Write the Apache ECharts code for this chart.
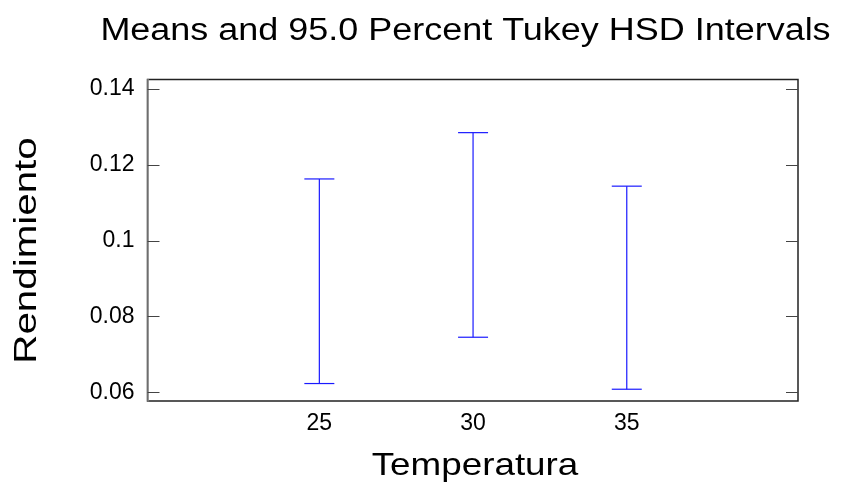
<!DOCTYPE html>
<html><head><meta charset="utf-8">
<script src="https://cdn.jsdelivr.net/npm/echarts@6/dist/echarts.min.js"></script>
<style>html,body{margin:0;padding:0;background:#fff}#c{width:849px;height:488px}</style>
</head><body><div id="c"></div>
<script>
const categories = [25, 30, 35];
const upper = [0.1163, 0.1285, 0.1144];
const lower = [0.0624, 0.0746, 0.0609];
const yTicks = [0.06, 0.08, 0.1, 0.12, 0.14];
const titleText = 'Means and 95.0 Percent Tukey HSD Intervals';
const xName = 'Temperatura';
const yName = 'Rendimiento';

const chart = echarts.init(document.getElementById('c'));
const font = 'Liberation Sans, Arial, sans-serif';
const data = categories.map((c, i) => [c, lower[i], upper[i]]);
chart.setOption({
  animation: false,
  graphic: [
    {type: 'text', x: 465.5, y: 31, scaleX: 1.16,
     style: {text: titleText, font: '31px ' + font, fill: '#000', align: 'center', verticalAlign: 'middle'}},
    {type: 'text', x: 475, y: 466, scaleX: 1.15,
     style: {text: xName, font: '32px ' + font, fill: '#000', align: 'center', verticalAlign: 'middle'}},
    {type: 'text', x: 27, y: 250.5, rotation: Math.PI / 2, scaleX: 1.26,
     style: {text: yName, font: '32px ' + font, fill: '#000', align: 'center', verticalAlign: 'middle'}}
  ],
  grid: {left: 147.5, right: 51, top: 79.5, bottom: 87, show: true, borderColor: '#222', borderWidth: 1.5},
  xAxis: {
    type: 'value', min: 19.41, max: 40.57,
    axisLine: {show: false}, axisTick: {show: false}, splitLine: {show: false},
    axisLabel: {customValues: categories, fontFamily: font, fontSize: 23, color: '#000', margin: 11}
  },
  yAxis: [{
    type: 'value', min: 0.0578, max: 0.1425,
    axisLine: {show: true, lineStyle: {color: '#888', width: 1.5}},
    axisTick: {show: true, inside: true, length: 12, customValues: yTicks, lineStyle: {color: '#444'}},
    splitLine: {show: false},
    axisLabel: {customValues: yTicks, fontFamily: font, fontSize: 23, color: '#000', margin: 13,
      formatter: v => String(Math.round(v * 100) / 100)}
  }, {
    type: 'value', min: 0.0578, max: 0.1425, position: 'right',
    axisLine: {show: false},
    axisTick: {show: true, inside: true, length: 12, customValues: yTicks, lineStyle: {color: '#444'}},
    axisLabel: {show: false}, splitLine: {show: false}
  }],
  series: [{
    type: 'custom',
    data: data,
    encode: {x: 0, y: [1, 2]},
    renderItem: function (params, api) {
      const x = api.value(0);
      const lo = api.coord([x, api.value(1)]);
      const hi = api.coord([x, api.value(2)]);
      const hw = 15;
      const style = {stroke: '#1a1aff', lineWidth: 1.2};
      return {type: 'group', children: [
        {type: 'line', shape: {x1: lo[0], y1: lo[1], x2: hi[0], y2: hi[1]}, style},
        {type: 'line', shape: {x1: lo[0] - hw, y1: lo[1], x2: lo[0] + hw, y2: lo[1]}, style},
        {type: 'line', shape: {x1: hi[0] - hw, y1: hi[1], x2: hi[0] + hw, y2: hi[1]}, style}
      ]};
    }
  }]
});
</script></body></html>
